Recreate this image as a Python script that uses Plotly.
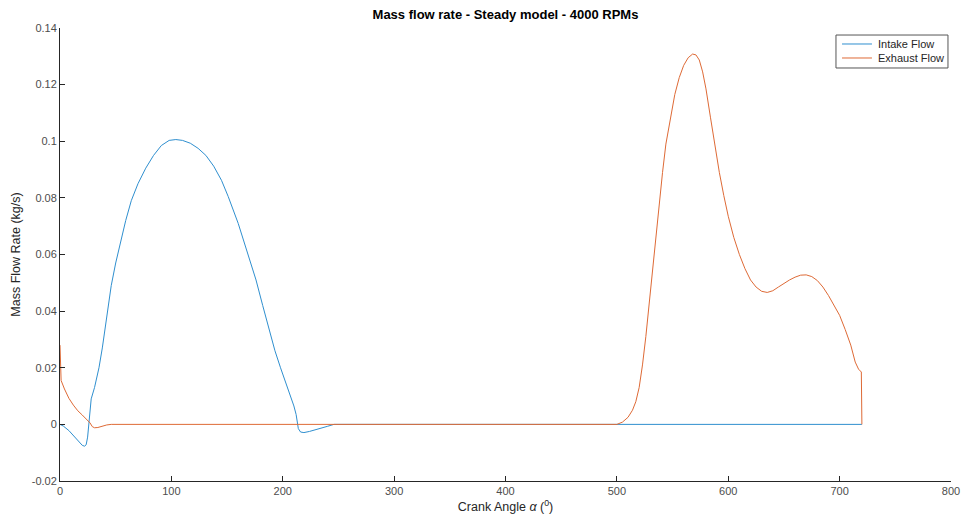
import plotly.graph_objects as go

# Crank angle (deg) and mass flow rate (kg/s) for the intake valve
intake_angle = [0, 3, 8, 13, 17, 20, 22, 23.5, 24.8, 26, 27, 28, 31, 35, 38, 40, 43, 46, 50, 54,
                59, 64, 70, 77, 84, 91, 98, 104, 110, 117, 124, 131, 138, 145, 151, 160, 170,
                176, 182, 188, 193, 198, 203, 207, 210, 212, 213, 214, 216, 219, 224, 232, 240,
                246, 720]
intake_flow = [0, -0.0006, -0.0022, -0.0045, -0.0063, -0.0074, -0.0077, -0.0072, -0.0045, 0.0,
               0.006, 0.009, 0.013, 0.020, 0.027, 0.033, 0.041, 0.049, 0.057, 0.064,
               0.072, 0.079, 0.085, 0.0905, 0.0950, 0.0985, 0.1003, 0.1006, 0.1003, 0.0993,
               0.0975, 0.0950, 0.0912, 0.0862, 0.0805, 0.071, 0.059, 0.051, 0.042, 0.033,
               0.026, 0.020, 0.0145, 0.010, 0.0065, 0.0035, 0.0005, -0.0015, -0.0027,
               -0.0029, -0.0025, -0.0017, -0.0007, 0, 0]

# Crank angle (deg) and mass flow rate (kg/s) for the exhaust valve
exhaust_angle = [0, 0.5, 1, 4, 8, 12, 16, 20, 24, 27, 29, 31, 34, 38, 42, 46, 500, 505, 510,
                 514, 517, 520, 523, 526, 529, 532, 535, 538, 541, 544, 548, 552, 556, 560,
                 564, 568, 571, 574, 577, 580, 584, 588, 592, 596, 600, 605, 610, 615, 620,
                 625, 630, 635, 640, 645, 650, 655, 660, 665, 670, 675, 680, 685, 690, 695,
                 700, 705, 710, 714, 717, 719.5, 720]
exhaust_flow = [0.028, 0.018, 0.0155, 0.0125, 0.0092, 0.0068, 0.0048, 0.0033, 0.0018, 0.0005,
                -0.0008, -0.0012, -0.0011, -0.0006, -0.0002, 0, 0, 0.0008, 0.0025,
                0.005, 0.008, 0.013, 0.021, 0.031, 0.043, 0.055, 0.067, 0.078, 0.089, 0.099,
                0.1085, 0.1165, 0.1225, 0.1268, 0.1295, 0.1308, 0.1305, 0.1287, 0.1245, 0.1185,
                0.1085, 0.0985, 0.0890, 0.0808, 0.0735, 0.066, 0.060, 0.055, 0.051, 0.0485,
                0.0470, 0.0466, 0.0472, 0.0485, 0.0498, 0.051, 0.052, 0.0527, 0.0528, 0.0522,
                0.0508, 0.0485, 0.0455, 0.042, 0.0385, 0.0335, 0.028, 0.022, 0.0195, 0.0185, 0]

series_names = ["Intake Flow", "Exhaust Flow"]
series_colors = ["#2f8fcf", "#de6a36"]

x_ticks = [0, 100, 200, 300, 400, 500, 600, 700, 800]
y_ticks = [-0.02, 0, 0.02, 0.04, 0.06, 0.08, 0.1, 0.12, 0.14]
y_tick_text = ["-0.02", "0", "0.02", "0.04", "0.06", "0.08", "0.1", "0.12", "0.14"]

FONT = "Liberation Sans, Arial, sans-serif"
AXIS_GREY = "#262626"

fig = go.Figure()
for name, color, xs, ys in zip(series_names, series_colors,
                               [intake_angle, exhaust_angle], [intake_flow, exhaust_flow]):
    fig.add_trace(go.Scatter(x=xs, y=ys, mode="lines", name=name, showlegend=False,
                             line=dict(color=color, width=1)))

axis_common = dict(
    showgrid=False, zeroline=False, showline=True, linecolor=AXIS_GREY, linewidth=1,
    ticks="inside", ticklen=5, tickcolor=AXIS_GREY, tickwidth=1, automargin=False,
    tickfont=dict(family=FONT, size=11, color="#4d4d4d"), mirror=False,
)

# Compact boxed legend in the upper-right corner of the axes
legend_box = dict(x0=0.8709, x1=0.9966, y0=0.9117, y1=0.9845)
row_y = [0.9647, 0.9338]
fig.add_shape(type="rect", xref="paper", yref="paper", **legend_box,
              line=dict(color="#555555", width=1), fillcolor="white", layer="above")
for name, color, ry in zip(series_names, series_colors, row_y):
    fig.add_shape(type="line", xref="paper", yref="paper", x0=0.8777, x1=0.9113,
                  y0=ry, y1=ry, line=dict(color=color, width=1), layer="above")
    fig.add_annotation(text=name, xref="paper", yref="paper", x=0.9158, y=ry,
                       xanchor="left", yanchor="middle", showarrow=False,
                       font=dict(family=FONT, size=11, color=AXIS_GREY))

fig.update_layout(
    width=962, height=522,
    margin=dict(l=60, r=11, t=28, b=41),
    paper_bgcolor="white", plot_bgcolor="white",
    title=dict(text="<b>Mass flow rate - Steady model - 4000 RPMs</b>",
               font=dict(family=FONT, size=13, color="black"),
               x=0.5, xref="paper", xanchor="center", y=0.973, yanchor="middle"),
    xaxis=dict(range=[0, 800], tickvals=x_ticks, **axis_common,
               title=dict(text="Crank Angle <i>α</i> (<sup>0</sup>)", standoff=6,
                          font=dict(family=FONT, size=12.5, color="#262626"))),
    yaxis=dict(range=[-0.02, 0.14], tickvals=y_ticks, ticktext=y_tick_text, **axis_common,
               title=dict(text="Mass Flow Rate (kg/s)", standoff=8,
                          font=dict(family=FONT, size=12.5, color="#262626"))),
    showlegend=False,
)

fig.write_html("out.html")
